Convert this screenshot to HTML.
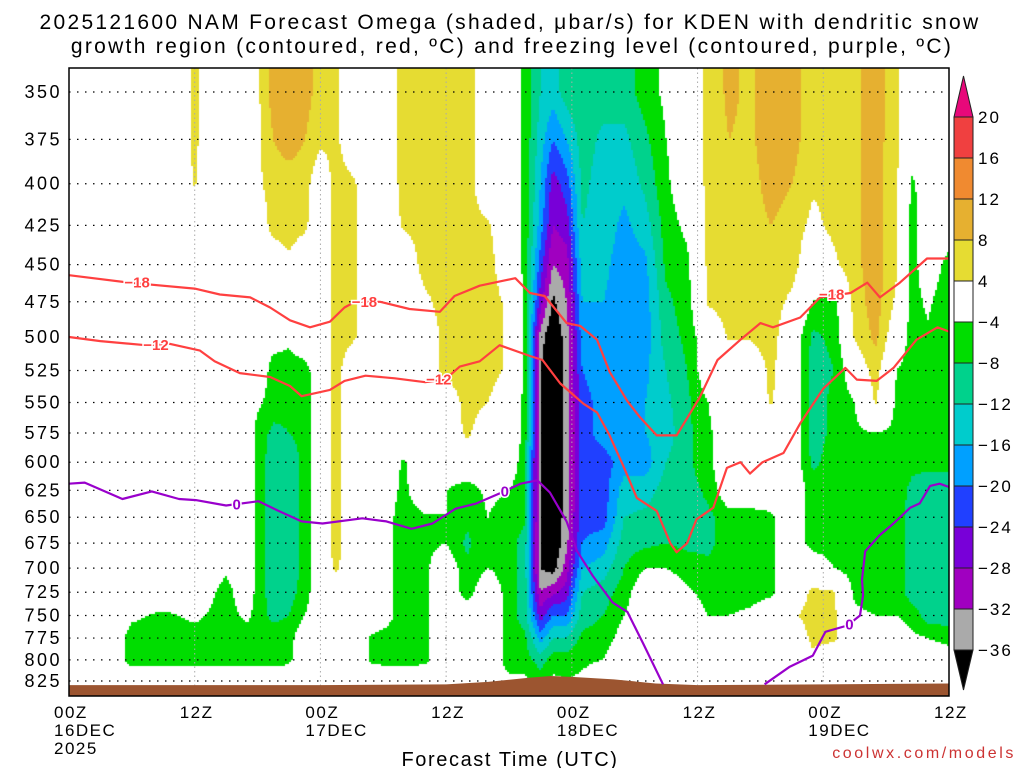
<!DOCTYPE html>
<html><head><meta charset="utf-8">
<style>
html,body{margin:0;padding:0;background:#fff;}
#wrap{position:relative;width:1024px;height:768px;overflow:hidden;font-family:"Liberation Sans",sans-serif;}
#field{position:absolute;left:69px;top:68px;}
#over{position:absolute;left:0;top:0;}
</style></head>
<body>
<div id="wrap">
<canvas id="field" width="880" height="628"></canvas>
<svg id="over" width="1024" height="768">
 <g id="grid"></g>
 <g id="terrain"></g>
 <g id="lines"></g>
 <rect x="69" y="68" width="880" height="628" fill="none" stroke="#000" stroke-width="1.5"/>
 <g id="yaxis"></g>
 <g id="xaxis"></g>
 <g id="cbar"></g>
 <text x="510" y="29" text-anchor="middle" font-size="21" letter-spacing="2.3" font-family="Liberation Sans, sans-serif">2025121600 NAM Forecast Omega (shaded, μbar/s) for KDEN with dendritic snow</text>
 <text x="512" y="53" text-anchor="middle" font-size="21" letter-spacing="2.3" font-family="Liberation Sans, sans-serif">growth region (contoured, red, ºC) and freezing level (contoured, purple, ºC)</text>
 <text x="510" y="766" text-anchor="middle" font-size="20" letter-spacing="1.6" font-family="Liberation Sans, sans-serif">Forecast Time (UTC)</text>
 <text x="1016" y="758" text-anchor="end" font-size="16" letter-spacing="2.6" fill="#cc3333" font-family="Liberation Sans, sans-serif">coolwx.com/models</text>
</svg>
</div>
<script>
// ---- data ----
const hours = [0,4,6,9,12,15,17,18,19.5,21,22.5,24,25.5,27,29,32,34,36,38,40,42,43.5,45,46.2,47.5,49,51,53,55,57,59,61,63,65,67,69,71,73,75,77,79,80.5,82,84];
const pressures = [350,375,400,425,450,475,500,525,550,575,600,625,650,675,700,725,750,775,800,825];
const omega = [
[0,0,0,0,0,0,0,0,0,0,0,0,0,0,0,0,0,0,0,0],
[0,0,0,0,0,0,0,0,0,0,0,0,0,0,0,0,0,0,0,0],
[0,0,0,0,0,0,0,0,0,0,0,0,0,0,0,0,-3,-6,-6,0],
[0,0,0,0,0,0,0,0,0,0,0,0,0,0,0,0,-5,-6,-6,0],
[4.5,4.5,4.3,0,0,0,0,0,0,0,0,0,0,0,0,0,-3,-6,-6,0],
[0,0,0,0,0,0,0,0,0,0,0,0,0,0,-3,-6,-6,-6,-6,0],
[0,0,0,0,0,0,0,0,0,0,0,0,0,0,0,0,-3,-6,-6,0],
[3,3,3,0,0,0,0,0,-3,-6,-6,-6,-6,-6,-6,-6,-6,-6,-6,0],
[10,8,6,6,0,0,-2,-6,-6,-9,-10,-10,-10,-10,-10,-10,-9,-6,-6,0],
[10,10,6,6,3,0,-3,-6,-7,-8,-10,-10,-10,-10,-10,-10,-8,-6,-5,0],
[10,8,6,5,0,0,0,-6,-7,-7,-7,-7,-7,-7,-7,-6,-4,0,0,0],
[6,5,0,0,0,0,0,0,0,0,0,0,0,0,0,0,0,0,0,0],
[5,5,6,6,6,6,6,6,6,6,6,6,6,6,5,0,0,0,0,0],
[0,0,5,5,5,5,5,0,0,0,0,0,0,0,0,0,0,0,0,0],
[0,0,0,0,0,0,0,0,0,0,0,0,0,0,0,0,0,-5,-5,0],
[5,5,5,4.5,0,0,0,0,0,0,-4.5,-5,-6,-6,-6,-6,-6,-6,-6,0],
[6,6,6,6,6,3,0,0,0,0,0,0,-4.5,-5,-5,-5,-5,-5,-5,0],
[6,6,7,7,6,6,6,6,0,0,0,-4,-4,-4,0,0,0,0,0,0],
[6,6,6,6,6,6,6,6,6,5,0,-6,-7,-9,-7,-6,0,0,0,0],
[0,0,0,4.5,6,6,6,6,4,0,0,-3,-4,-4,-4,0,0,0,0,0],
[0,0,0,0,0,3,3,3,0,0,0,-4,-6,-6,-6,-6,-6,-6,-6,-3],
[-5,-5,-5,-5,-5,-5,-5,-5,-5,-5,-7,-7,-7,-10,-10,-10,-10,-7,-6,-3],
[-12,-14,-16,-18,-22,-26,-34,-36,-36,-36,-36,-36,-36,-36,-36,-32,-26,-18,-10,-6],
[-14,-20,-26,-28,-32,-37,-40,-40,-40,-40,-40,-40,-40,-40,-38,-29,-20,-12,-6,-3],
[-10,-16,-22,-26,-30,-32,-34,-34,-34,-34,-34,-34,-34,-33,-30,-26,-20,-12,-6,-4],
[-9,-10,-11,-12,-14,-16,-18,-20,-22,-22,-22,-22,-21,-20,-16,-12,-10,-7,-5,-3],
[-10,-13,-14,-14,-15,-16,-16,-17,-18,-18,-22,-22,-22,-18,-14,-10,-8,-6,-4,0],
[-10,-13,-15,-17,-18,-18,-18,-18,-17,-16,-18,-14,-12,-10,-8,-6,-4,-2,0,0],
[-6,-9,-11,-14,-17,-18,-18,-17,-16,-16,-18,-14,-11,-9,-4,0,0,0,0,0],
[-3,-4,-5,-6,-7,-9,-10,-12,-13,-14,-12,-10,-9,-8,-4,0,0,0,0,0],
[0,0,0,-3,-5,-6,-7,-8,-9,-9,-9,-10,-10,-9,-6,-3,0,0,0,0],
[5,5,5,5,5,4.5,0,0,-4,-5,-5,-7,-9,-9,-7,-6,-4,0,0,0],
[9,8,7,6,6,6,4.5,0,0,0,0,0,-6,-6,-7,-6,-4,0,0,0],
[7,7,6,6,6,5,4.5,0,0,0,0,0,-6,-6,-6,-6,-3,0,0,0],
[11,11,10,8,6,6,6,5,4.5,0,0,0,-5,-5,-5,-5,0,0,0,0],
[10,10,8,6,6,3,0,0,0,0,0,0,0,0,0,0,3,0,0,0],
[5,5,4.5,3,0,-4,-9,-10,-10,-10,-9,-6,-6,-6,0,5,6,5,3,0],
[5,5,5,5,3,-6,-7,-8,-7,-7,-6,-6,-6,-6,-4,4.5,5,5,0,0],
[7,7,7,7,7,6,4.5,0,-4,-5,-6,-6,-6,-6,-6,-5,-3,0,0,0],
[10,10,10,10,10,10,9,6,4.5,-4,-6,-6,-6,-6,-6,-6,-4,0,0,0],
[5,5,4.5,4.5,4.5,3,0,-4,-5,-5,-6,-6,-6,-6,-6,-6,-4,0,0,0],
[0,0,-5,-6,-6,-6,-6,-6,-6,-6,-7,-9,-10,-10,-10,-10,-6,-3,0,0],
[0,0,0,0,0,-3,-5,-6,-6,-6,-7,-10,-10,-10,-10,-10,-10,-4,0,0],
[0,0,0,0,-6,-8,-8,-8,-7,-7,-7,-10,-10,-10,-10,-10,-10,-6,0,0]
];
const yTicks = [350,375,400,425,450,475,500,525,550,575,600,625,650,675,700,725,750,775,800,825];
const xTickHours = [0,12,24,36,48,60,72,84];
const xTickLabels = [["00Z","16DEC","2025"],["12Z"],["00Z","17DEC"],["12Z"],["00Z","18DEC"],["12Z"],["00Z","19DEC"],["12Z"]];
const cbarLevels = [20,16,12,8,4,-4,-8,-12,-16,-20,-24,-28,-32,-36];
const cbarColors = ["#e8087a","#f04040","#f08a30","#e6b030","#e6dc32","#ffffff","#00dd00","#00d28c","#00cccc","#00a0ff","#2040ff","#7800d8","#a000c0","#aaaaaa","#000000"];
const terrainHours = [0,12,24,36,40,44,46,48,52,56,60,72,84];
const terrainP = [830,830,830,829,826,821,819,820,823,828,830,829,828];
const dgz18Hours = [0,5.8,12,14.4,17.3,19.2,21.1,23,24.9,26.3,27.3,29.7,32.5,35.4,36.8,39.2,42.6,44,45.4,47.5,48.8,50.4,51.6,53.3,54.5,56.1,58,60.2,61.9,64.1,66,67.2,69.8,71.7,74.6,76.2,77.4,79.3,81.9,84];
const dgz18P = [457,462,466,470,472,479,488,493,489,479,475,475,480,482,471,464,459,469,471,490,492,502,526,549,562,577,577,546,517,502,490,493,486,472,469,462,472,462,446,446];
const dgz12Hours = [0,3,7.3,9.6,12.5,13.9,16.3,19.2,21.1,22.2,24.9,26.3,28.3,31.1,34,35.9,37.3,39.2,41.1,44,45.2,46.9,49.1,50.4,51.6,52.9,54.2,56.1,57.4,58,59,59.9,61.5,62.8,64.1,65,66.2,68.2,69.8,72,74.1,75.2,77.1,78.7,80.9,82.9,84];
const dgz12P = [500,503,506,505,510,518,527,530,537,545,540,533,529,531,534,532,522,518,506,514,517,535,551,558,577,603,632,644,675,684,675,652,641,605,600,610,600,592,567,539,523,532,533,523,502,493,496];
const frz1Hours = [0,1.5,5.1,7.9,10.5,12.1,15,18.1,20,22.2,24.2,28,30.3,32.7,34.7,36.9,38.9,41.3,43.1,44.7,45.9,47.5,48.5,50,51.9,53.3,54.8,56.7];
const frz1P = [619,618,633,626,633,634,639,635,644,654,656,651,654,661,656,642,637,627,619,616,627,654,683,708,736,746,781,829];
const frz2Hours = [66.4,68.8,71,72.2,74.3,75.5,75.8,75.7,76,77.4,78.7,80.3,81.2,82.2,83.1,84];
const frz2P = [829,808,795,768,761,750,728,712,683,667,656,641,637,621,619,622];
const labels18 = [[6.5,462],[28.2,475],[72.8,470]];
const labels12 = [[8.3,506],[35.3,532]];
const labels0 = [[16,638],[41.6,626],[74.5,760]];

// ---- scales ----
const X0=69, X1=949, Y350=92, Y825=681;
const L0=Math.log(350), L1=Math.log(825);
function xs(h){return X0+h*(X1-X0)/84;}
function ys(p){return Y350+(Math.log(p)-L0)/(L1-L0)*(Y825-Y350);}
function hOf(x){return (x-X0)*84/(X1-X0);}
function lpOf(y){return L0+(y-Y350)/(Y825-Y350)*(L1-L0);}
const NS='http://www.w3.org/2000/svg';
function mk(tag,attrs,parent){const e=document.createElementNS(NS,tag);for(const k in attrs)e.setAttribute(k,attrs[k]);parent.appendChild(e);return e;}

// ---- field ----
const lnP = pressures.map(Math.log);
function val(h,lp){
  let i=0; while(i<hours.length-2 && h>hours[i+1]) i++;
  let tx=(h-hours[i])/(hours[i+1]-hours[i]); tx=Math.max(0,Math.min(1,tx));
  if(lp<lnP[0]) lp=lnP[0]; if(lp>lnP[lnP.length-1]) lp=lnP[lnP.length-1];
  let j=0; while(j<lnP.length-2 && lp>lnP[j+1]) j++;
  let ty=(lp-lnP[j])/(lnP[j+1]-lnP[j]); ty=Math.max(0,Math.min(1,ty));
  const a=omega[i][j],b=omega[i+1][j],c=omega[i][j+1],d=omega[i+1][j+1];
  return a*(1-tx)*(1-ty)+b*tx*(1-ty)+c*(1-tx)*ty+d*tx*ty;
}
function colorFor(v){
  for(let k=0;k<cbarLevels.length;k++){ if(v>=cbarLevels[k]) return cbarColors[k]; }
  return cbarColors[cbarColors.length-1];
}
const ctx=document.getElementById('field').getContext('2d');
const step=2;
for(let py=0;py<628;py+=step){
  const lp=lpOf(68+py+step/2);
  for(let px=0;px<880;px+=step){
    const v=val(hOf(69+px+step/2),lp);
    const c=colorFor(v);
    if(c!=="#ffffff"){ctx.fillStyle=c;ctx.fillRect(px,py,step,step);}
  }
}

// ---- grid ----
const grid=document.getElementById('grid');
yTicks.forEach(p=>{
  const l=mk('line',{x1:X0,x2:X1,y1:ys(p),y2:ys(p),stroke:'#000','stroke-width':1.2,'stroke-dasharray':'1.5,6.5'},grid);
  
  
});
xTickHours.forEach(h=>{
  if(h===0||h===84) return;
  const l=mk('line',{x1:xs(h),x2:xs(h),y1:68,y2:696,stroke:'#aaa','stroke-width':1,'stroke-dasharray':'1.5,3'},grid);
  
  
});

// ---- terrain ----
(function(){
  let d='M'+xs(terrainHours[0])+',696';
  terrainHours.forEach((h,k)=>{d+=' L'+xs(h)+','+ys(terrainP[k]);});
  d+=' L'+xs(84)+',696 Z';
  const t=mk('path',{d:d,fill:'#9c5530'},document.getElementById('terrain'));
  
  
})();

// ---- contour lines ----
const lg=document.getElementById('lines');
function drawLine(hs,ps,color,name){
  const d=hs.map((h,k)=>(k?'L':'M')+xs(h).toFixed(1)+','+ys(ps[k]).toFixed(1)).join(' ');
  const p=mk('path',{d:d,fill:'none',stroke:color,'stroke-width':2.2,'stroke-linejoin':'round'},lg);
  
  
}
drawLine(dgz18Hours,dgz18P,'#ff4040','contour-minus-18');
drawLine(dgz12Hours,dgz12P,'#ff4040','contour-minus-12');
drawLine(frz1Hours,frz1P,'#9900cc','freezing-level-west');
drawLine(frz2Hours,frz2P,'#9900cc','freezing-level-east');
function drawLabels(arr,txt,color,name){
  arr.forEach(a=>{
    const t=mk('text',{x:xs(a[0]),y:ys(a[1])+5,'text-anchor':'middle','font-size':15,'font-weight':'bold',fill:color,stroke:'#fff','stroke-width':3,'paint-order':'stroke','font-family':'Liberation Sans, sans-serif'},lg);
    t.textContent=txt;
    
    
  });
}
drawLabels(labels18,'−18','#ff4040','contour-label-minus-18');
drawLabels(labels12,'−12','#ff4040','contour-label-minus-12');
drawLabels(labels0,'0','#9900cc','freezing-level-label');

// ---- axes ----
const ya=document.getElementById('yaxis');
yTicks.forEach(p=>{
  const t=mk('text',{x:62,y:ys(p)+6,'text-anchor':'end','font-size':18,'letter-spacing':2.5,'font-family':'Liberation Sans, sans-serif'},ya);
  t.textContent=p;
  
  
});
const xa=document.getElementById('xaxis');
xTickHours.forEach((h,k)=>{
  xTickLabels[k].forEach((s,r)=>{
    const t=mk('text',{x:xs(h)-15,y:718+r*18,'text-anchor':'start','font-size':17,'letter-spacing':1.5,'font-family':'Liberation Sans, sans-serif'},xa);
    t.textContent=s;
    
    
  });
});

// ---- colorbar ----
const cb=document.getElementById('cbar');
const cbX0=954,cbX1=973,cbTop=117,cbH=41;
(function(){
  const top=mk('polygon',{points:cbX0+','+cbTop+' '+cbX1+','+cbTop+' '+((cbX0+cbX1)/2)+',76',fill:cbarColors[0],stroke:'#222','stroke-width':1},cb);
  
  
  for(let k=1;k<cbarLevels.length;k++){
    const r=mk('rect',{x:cbX0,y:cbTop+(k-1)*cbH,width:cbX1-cbX0,height:cbH,fill:cbarColors[k],stroke:'#222','stroke-width':1},cb);
    
    
  }
  const yb=cbTop+(cbarLevels.length-1)*cbH;
  const bot=mk('polygon',{points:cbX0+','+yb+' '+cbX1+','+yb+' '+((cbX0+cbX1)/2)+','+(yb+40),fill:'#000',stroke:'#222','stroke-width':1},cb);
  
  
  cbarLevels.forEach((lv,k)=>{
    const t=mk('text',{x:978,y:cbTop+k*cbH+6,'font-size':17,'letter-spacing':2,'font-family':'Liberation Sans, sans-serif'},cb);
    t.textContent=(lv<0?'−'+(-lv):String(lv));
    
    
  });
})();
</script>
</body></html>
